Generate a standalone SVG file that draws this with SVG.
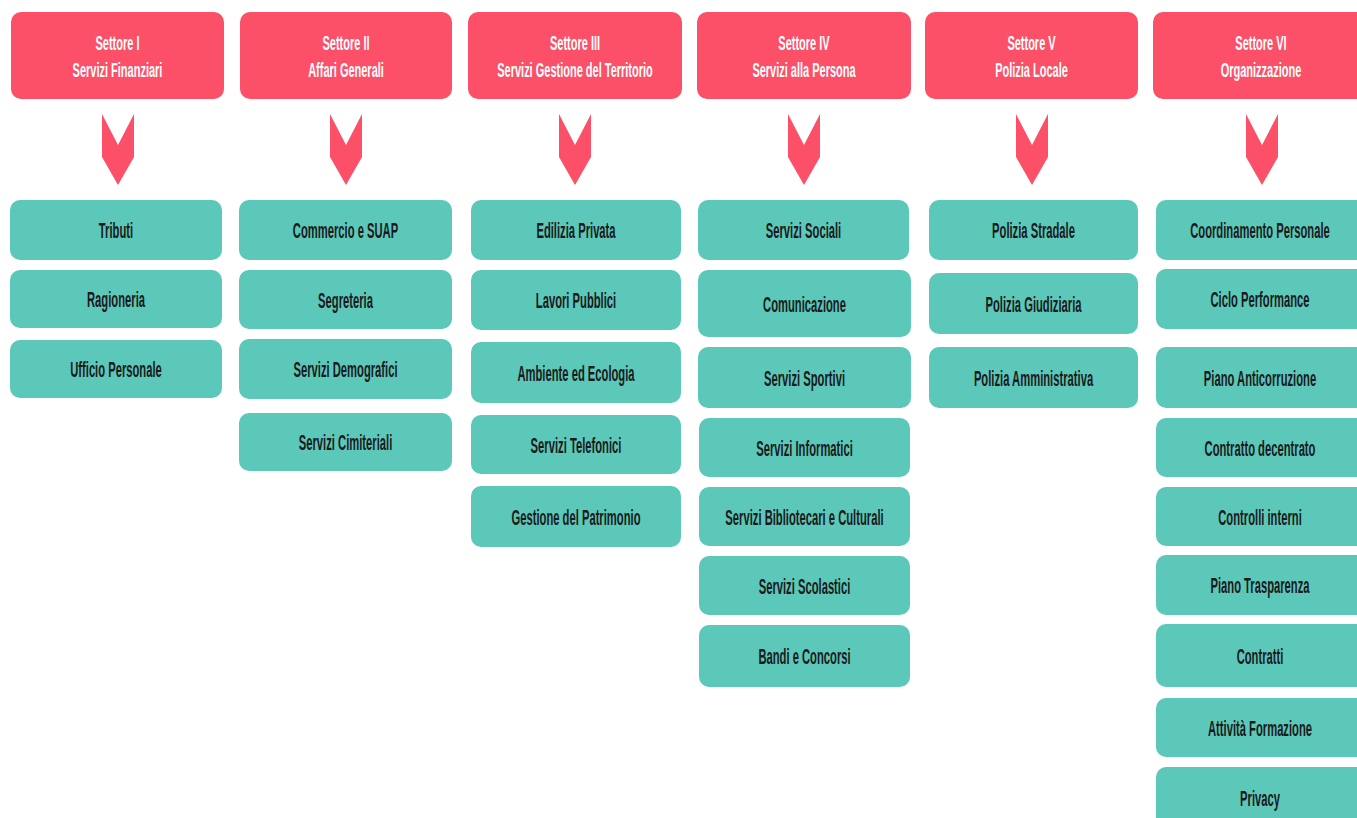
<svg xmlns="http://www.w3.org/2000/svg" xmlns:xlink="http://www.w3.org/1999/xlink" width="1357" height="818" viewBox="0 0 1357 818">
<style>
.hd{fill:#FB5067}
.bx{fill:#5BC8BA}
.ht{font-family:"Liberation Sans",Arial,sans-serif;font-weight:bold;font-size:20px;fill:#FFFFFF;text-anchor:middle}
.bt{font-family:"Liberation Sans",Arial,sans-serif;font-weight:bold;font-size:22px;fill:#1A1A1A;text-anchor:middle}
.ch{fill:#FB5067}
</style>
<defs>
<path id="chev" d="M-16,114 L0,145 L16,114 L16,157 L0,185 L-16,157 Z"/>
</defs>
<rect width="1357" height="818" fill="#FFFFFF"/>
<g id="connectors" class="ch">
<use xlink:href="#chev" x="118"/>
<use xlink:href="#chev" x="346"/>
<use xlink:href="#chev" x="575"/>
<use xlink:href="#chev" x="804"/>
<use xlink:href="#chev" x="1032"/>
<use xlink:href="#chev" x="1262"/>
</g>
<g id="settore1">
<rect class="hd" x="11" y="12" width="213" height="87" rx="10"/>
<text class="ht" transform="translate(117.5,50) scale(0.55,1)">Settore I</text>
<text class="ht" transform="translate(117.5,77) scale(0.55,1)">Servizi Finanziari</text>
</g>
<g id="settore2">
<rect class="hd" x="240" y="12" width="212" height="87" rx="10"/>
<text class="ht" transform="translate(346,50) scale(0.55,1)">Settore II</text>
<text class="ht" transform="translate(346,77) scale(0.55,1)">Affari Generali</text>
</g>
<g id="settore3">
<rect class="hd" x="468" y="12" width="214" height="87" rx="10"/>
<text class="ht" transform="translate(575,50) scale(0.55,1)">Settore III</text>
<text class="ht" transform="translate(575,77) scale(0.55,1)">Servizi Gestione del Territorio</text>
</g>
<g id="settore4">
<rect class="hd" x="697" y="12" width="214" height="87" rx="10"/>
<text class="ht" transform="translate(804,50) scale(0.55,1)">Settore IV</text>
<text class="ht" transform="translate(804,77) scale(0.55,1)">Servizi alla Persona</text>
</g>
<g id="settore5">
<rect class="hd" x="925" y="12" width="213" height="87" rx="10"/>
<text class="ht" transform="translate(1031.5,50) scale(0.55,1)">Settore V</text>
<text class="ht" transform="translate(1031.5,77) scale(0.55,1)">Polizia Locale</text>
</g>
<g id="settore6">
<rect class="hd" x="1153" y="12" width="216" height="87" rx="10"/>
<text class="ht" transform="translate(1261,50) scale(0.55,1)">Settore VI</text>
<text class="ht" transform="translate(1261,77) scale(0.55,1)">Organizzazione</text>
</g>

<g id="tributi"><rect class="bx" x="10" y="200" width="212" height="60" rx="10"/><text class="bt" transform="translate(116,238) scale(0.51,1)">Tributi</text></g>
<g id="ragioneria"><rect class="bx" x="10" y="270" width="212" height="58" rx="10"/><text class="bt" transform="translate(116,307) scale(0.51,1)">Ragioneria</text></g>
<g id="ufficio-personale"><rect class="bx" x="10" y="340" width="212" height="58" rx="10"/><text class="bt" transform="translate(116,377) scale(0.51,1)">Ufficio Personale</text></g>

<g id="commercio"><rect class="bx" x="239" y="200" width="213" height="60" rx="10"/><text class="bt" transform="translate(345.5,238) scale(0.51,1)">Commercio e SUAP</text></g>
<g id="segreteria"><rect class="bx" x="239" y="270" width="213" height="59" rx="10"/><text class="bt" transform="translate(345.5,307.5) scale(0.51,1)">Segreteria</text></g>
<g id="demografici"><rect class="bx" x="239" y="339" width="213" height="60" rx="10"/><text class="bt" transform="translate(345.5,377) scale(0.51,1)">Servizi Demografici</text></g>
<g id="cimiteriali"><rect class="bx" x="239" y="413" width="213" height="58" rx="10"/><text class="bt" transform="translate(345.5,450) scale(0.51,1)">Servizi Cimiteriali</text></g>

<g id="edilizia"><rect class="bx" x="471" y="200" width="210" height="60" rx="10"/><text class="bt" transform="translate(576,238) scale(0.51,1)">Edilizia Privata</text></g>
<g id="lavori"><rect class="bx" x="471" y="270" width="210" height="60" rx="10"/><text class="bt" transform="translate(576,308) scale(0.51,1)">Lavori Pubblici</text></g>
<g id="ambiente"><rect class="bx" x="471" y="342" width="210" height="61" rx="10"/><text class="bt" transform="translate(576,380.5) scale(0.51,1)">Ambiente ed Ecologia</text></g>
<g id="telefonici"><rect class="bx" x="471" y="415" width="210" height="59" rx="10"/><text class="bt" transform="translate(576,452.5) scale(0.51,1)">Servizi Telefonici</text></g>
<g id="patrimonio"><rect class="bx" x="471" y="486" width="210" height="61" rx="10"/><text class="bt" transform="translate(576,524.5) scale(0.51,1)">Gestione del Patrimonio</text></g>

<g id="sociali"><rect class="bx" x="698" y="200" width="211" height="60" rx="10"/><text class="bt" transform="translate(803.5,238) scale(0.51,1)">Servizi Sociali</text></g>
<g id="comunicazione"><rect class="bx" x="698" y="270" width="213" height="67" rx="10"/><text class="bt" transform="translate(804.5,311.5) scale(0.51,1)">Comunicazione</text></g>
<g id="sportivi"><rect class="bx" x="698" y="347" width="213" height="61" rx="10"/><text class="bt" transform="translate(804.5,385.5) scale(0.51,1)">Servizi Sportivi</text></g>
<g id="informatici"><rect class="bx" x="699" y="418" width="211" height="59" rx="10"/><text class="bt" transform="translate(804.5,455.5) scale(0.51,1)">Servizi Informatici</text></g>
<g id="bibliotecari"><rect class="bx" x="699" y="487" width="211" height="59" rx="10"/><text class="bt" transform="translate(804.5,524.5) scale(0.51,1)">Servizi Bibliotecari e Culturali</text></g>
<g id="scolastici"><rect class="bx" x="699" y="556" width="211" height="59" rx="10"/><text class="bt" transform="translate(804.5,593.5) scale(0.51,1)">Servizi Scolastici</text></g>
<g id="bandi"><rect class="bx" x="699" y="625" width="211" height="62" rx="10"/><text class="bt" transform="translate(804.5,664) scale(0.51,1)">Bandi e Concorsi</text></g>

<g id="stradale"><rect class="bx" x="929" y="200" width="209" height="60" rx="10"/><text class="bt" transform="translate(1033.5,238) scale(0.51,1)">Polizia Stradale</text></g>
<g id="giudiziaria"><rect class="bx" x="929" y="273" width="209" height="61" rx="10"/><text class="bt" transform="translate(1033.5,311.5) scale(0.51,1)">Polizia Giudiziaria</text></g>
<g id="amministrativa"><rect class="bx" x="929" y="347" width="209" height="61" rx="10"/><text class="bt" transform="translate(1033.5,385.5) scale(0.51,1)">Polizia Amministrativa</text></g>

<g id="coordinamento"><rect class="bx" x="1156" y="200" width="214" height="60" rx="10"/><text class="bt" transform="translate(1260,238) scale(0.51,1)">Coordinamento Personale</text></g>
<g id="ciclo"><rect class="bx" x="1156" y="269" width="214" height="60" rx="10"/><text class="bt" transform="translate(1260,307) scale(0.51,1)">Ciclo Performance</text></g>
<g id="anticorruzione"><rect class="bx" x="1156" y="347" width="214" height="61" rx="10"/><text class="bt" transform="translate(1260,385.5) scale(0.51,1)">Piano Anticorruzione</text></g>
<g id="decentrato"><rect class="bx" x="1156" y="418" width="214" height="59" rx="10"/><text class="bt" transform="translate(1260,455.5) scale(0.51,1)">Contratto decentrato</text></g>
<g id="controlli"><rect class="bx" x="1156" y="487" width="214" height="59" rx="10"/><text class="bt" transform="translate(1260,524.5) scale(0.51,1)">Controlli interni</text></g>
<g id="trasparenza"><rect class="bx" x="1156" y="555" width="214" height="60" rx="10"/><text class="bt" transform="translate(1260,593) scale(0.51,1)">Piano Trasparenza</text></g>
<g id="contratti"><rect class="bx" x="1156" y="624" width="214" height="63" rx="10"/><text class="bt" transform="translate(1260,663.5) scale(0.51,1)">Contratti</text></g>
<g id="formazione"><rect class="bx" x="1156" y="698" width="214" height="59" rx="10"/><text class="bt" transform="translate(1260,735.5) scale(0.51,1)">Attività Formazione</text></g>
<g id="privacy"><rect class="bx" x="1156" y="767" width="214" height="62" rx="10"/><text class="bt" transform="translate(1260,806) scale(0.51,1)">Privacy</text></g>
</svg>
